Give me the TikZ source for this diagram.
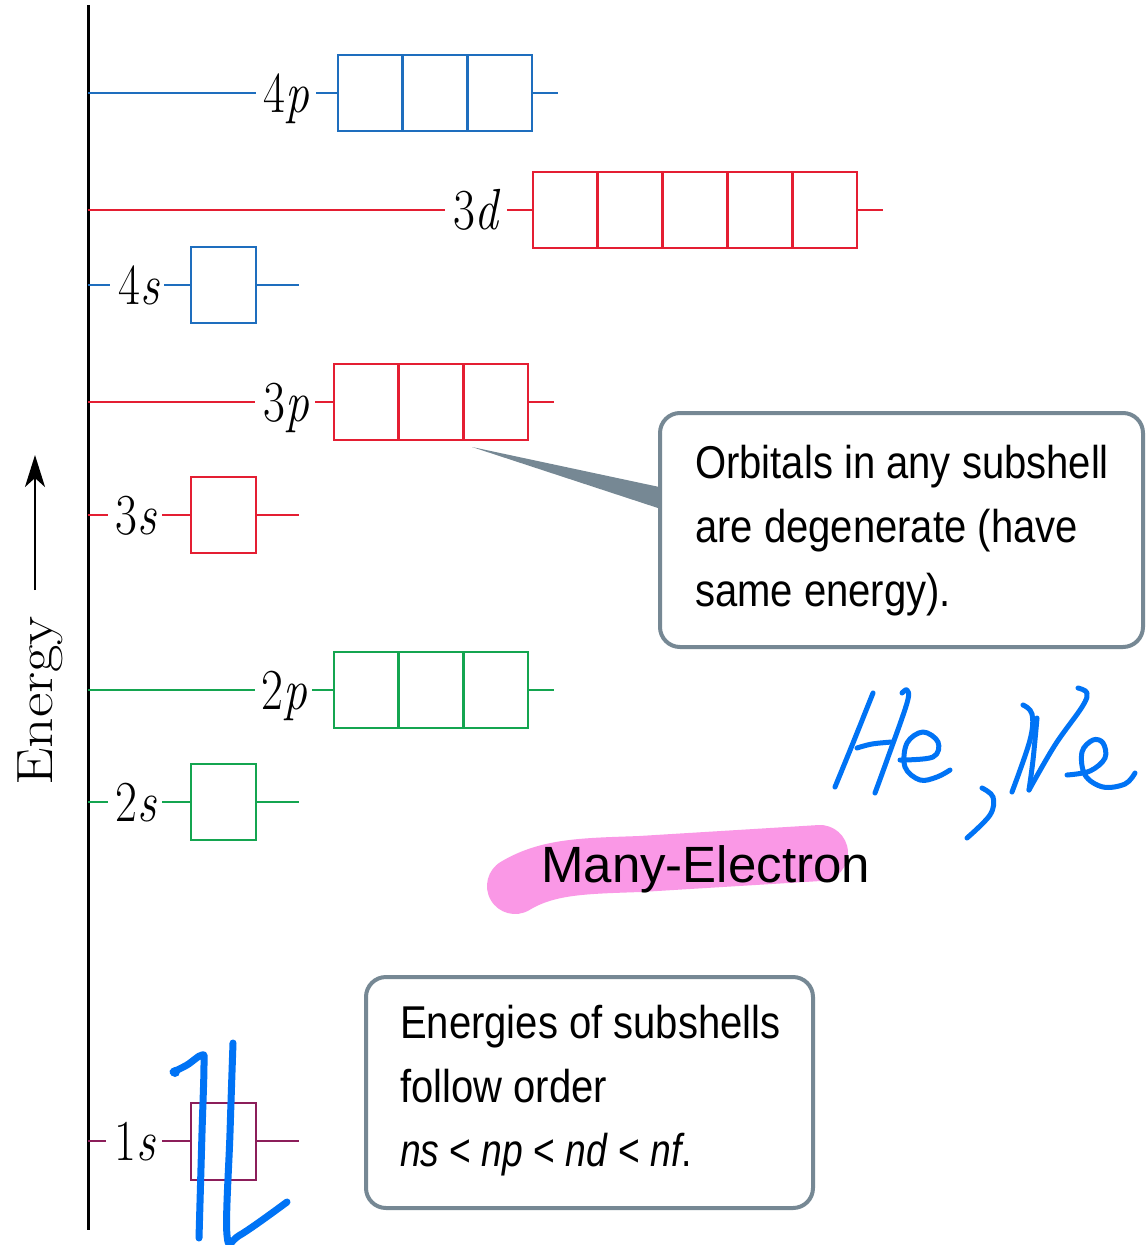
\documentclass[tikz,border=0pt]{standalone}
\usepackage{graphicx}
\usepackage{fontspec}
\newfontfamily\sansc[FakeStretch=0.87]{Liberation Sans}
\newfontfamily\arialf{Liberation Sans}
\usetikzlibrary{arrows.meta}
\definecolor{cblue}{RGB}{30,110,190}
\definecolor{cred}{RGB}{228,30,50}
\definecolor{cgreen}{RGB}{20,165,80}
\definecolor{cpurp}{RGB}{140,30,90}
\definecolor{cgray}{RGB}{118,136,148}
\definecolor{cpink}{RGB}{250,152,230}
\definecolor{cpen}{RGB}{0,115,245}
\tikzset{
  lvl/.style={font=\fontsize{58}{60}\selectfont, inner sep=0pt, anchor=base},
  orb/.style={line width=2.8pt},
  callbox/.style={draw=cgray, line width=4pt, rounded corners=20pt, fill=white},
  calltext/.style={font=\sansc\fontsize{46}{64}\selectfont, align=left, inner sep=0pt, anchor=north west},
  pen/.style={draw=cpen, line width=5pt, line cap=round, line join=round},
  penthick/.style={draw=cpen, line width=7pt, line cap=round, line join=round},
}
\begin{document}
\begin{tikzpicture}[x=1pt,y=-1pt]
\useasboundingbox[fill=white] (0,0) rectangle (1147,1245);

% axis
\draw[line width=3pt] (88,5) -- (88,1230);
% energy arrow and label
\coordinate (arrS) at (35,590);
\coordinate (arrE) at (35,455);
\draw[line width=2.8pt, -{Stealth[length=32pt,width=20pt,inset=9pt]}] (arrS) -- (arrE);
\node[font=\fontsize{51}{53}\selectfont, inner sep=0pt, anchor=base, rotate=90] (energy) at (52,701) {\scalebox{1.17}[1]{Energy}};

% 4p
\draw[orb, cblue] (88,93) -- (256,93);
\node[lvl] (L4p) at (286,112) {\scalebox{0.82}[1]{4\textit{p}}};
\draw[orb, cblue] (316,93) -- (338,93);
\draw[orb, cblue] (338,55) rectangle (532,131);
\foreach \i in {1,2} \draw[orb, cblue] ({338+\i*64.67},55) -- ++(0,76);
\draw[orb, cblue] (532,93) -- (558,93);

% 3d
\draw[orb, cred] (88,210) -- (445,210);
\node[lvl] (L3d) at (477,229) {\scalebox{0.82}[1]{3\textit{d}}};
\draw[orb, cred] (507,210) -- (533,210);
\draw[orb, cred] (533,172) rectangle (857,248);
\foreach \i in {1,2,3,4} \draw[orb, cred] ({533+\i*64.8},172) -- ++(0,76);
\draw[orb, cred] (857,210) -- (883,210);

% 4s
\draw[orb, cblue] (88,285) -- (110,285);
\node[lvl] (L4s) at (139,304) {\scalebox{0.82}[1]{4\textit{s}}};
\draw[orb, cblue] (164,285) -- (191,285);
\draw[orb, cblue] (191,247) rectangle (256,323);
\draw[orb, cblue] (256,285) -- (299,285);

% 3p
\draw[orb, cred] (88,402) -- (255,402);
\node[lvl] (L3p) at (286,421) {\scalebox{0.82}[1]{3\textit{p}}};
\draw[orb, cred] (315,402) -- (334,402);
\draw[orb, cred] (334,364) rectangle (528,440);
\foreach \i in {1,2} \draw[orb, cred] ({334+\i*64.67},364) -- ++(0,76);
\draw[orb, cred] (528,402) -- (554,402);

% 3s
\draw[orb, cred] (88,515) -- (108,515);
\node[lvl] (L3s) at (136,534) {\scalebox{0.82}[1]{3\textit{s}}};
\draw[orb, cred] (162,515) -- (191,515);
\draw[orb, cred] (191,477) rectangle (256,553);
\draw[orb, cred] (256,515) -- (299,515);

% 2p
\draw[orb, cgreen] (88,690) -- (255,690);
\node[lvl] (L2p) at (284,709) {\scalebox{0.82}[1]{2\textit{p}}};
\draw[orb, cgreen] (312,690) -- (334,690);
\draw[orb, cgreen] (334,652) rectangle (528,728);
\foreach \i in {1,2} \draw[orb, cgreen] ({334+\i*64.67},652) -- ++(0,76);
\draw[orb, cgreen] (528,690) -- (554,690);

% 2s
\draw[orb, cgreen] (88,802) -- (108,802);
\node[lvl] (L2s) at (136,821) {\scalebox{0.82}[1]{2\textit{s}}};
\draw[orb, cgreen] (162,802) -- (191,802);
\draw[orb, cgreen] (191,764) rectangle (256,840);
\draw[orb, cgreen] (256,802) -- (299,802);

% 1s
\draw[orb, cpurp] (88,1141) -- (106,1141);
\node[lvl] (L1s) at (135,1160) {\scalebox{0.82}[1]{1\textit{s}}};
\draw[orb, cpurp] (162,1141) -- (191,1141);
\draw[orb, cpurp] (191,1103) rectangle (256,1180);
\draw[orb, cpurp] (256,1141) -- (299,1141);

% callout 1 with pointer
\coordinate (ptip) at (472,447);
\fill[cgray] (ptip) -- (664,488) -- (664,510) -- cycle;
\draw[callbox] (660,413) rectangle (1143,647);
\node[calltext] (c1) at (695,444.5) {Orbitals in any subshell\\are degenerate (have\\same energy).};

% callout 2
\draw[callbox] (366,977) rectangle (813,1208);
\node[calltext] (c2) at (400,1004.5) {Energies of subshells\\follow order\\\scalebox{0.93}[1]{\textit{ns} < \textit{np} < \textit{nd} < \textit{nf}.}};

% highlight + Many-Electron
\draw[cpink, line width=56pt, line cap=round] (515,886) .. controls (548,866) and (585,866) .. (640,864) -- (820,853);
\node[font=\arialf\fontsize{51}{53}\selectfont, inner sep=0pt, anchor=base west] (many) at (541,882) {Many-Electron};

% handwriting He, Ne
\draw[pen] plot[smooth, tension=0.6] coordinates {(873,693) (853,743) (835,787)};
\draw[pen] plot[smooth, tension=0.6] coordinates {(857,748) (872,744) (892,742)};
\draw[pen] plot[smooth, tension=0.6] coordinates {(902,693) (907,690) (907,703) (887,760) (875,793)};
\draw[pen] plot[smooth, tension=0.6] coordinates {(900,760) (933,757) (938,742) (923,732) (907,743) (905,767) (920,780) (937,777) (950,770)};
\draw[pen] plot[smooth, tension=0.6] coordinates {(982,788) (993,797) (990,815) (967,838)};
\draw[pen] plot[smooth, tension=0.6] coordinates {(1023,705) (1032,714) (1030,740) (1012,792)};
\draw[pen] plot[smooth, tension=0.6] coordinates {(1037,718) (1033,760) (1029,790)};
\draw[pen] plot[smooth, tension=0.6] coordinates {(1029,790) (1055,745) (1082,707) (1087,693) (1078,688)};
\draw[pen] plot[smooth, tension=0.6] coordinates {(1067,775) (1090,771) (1105,758) (1103,743) (1093,740) (1082,752) (1085,775) (1103,787) (1125,784) (1135,773)};

% handwriting over 1s
\fill[cpen] (175,1072) circle (5pt);
\draw[penthick] plot[smooth, tension=0.6] coordinates {(173,1072) (187,1065) (202,1055) (204,1065) (202,1133) (199,1238)};
\draw[penthick] plot[smooth, tension=0.6] coordinates {(233,1043) (230,1133) (227,1235) (240,1235) (287,1202)};
\end{tikzpicture}
\end{document}
